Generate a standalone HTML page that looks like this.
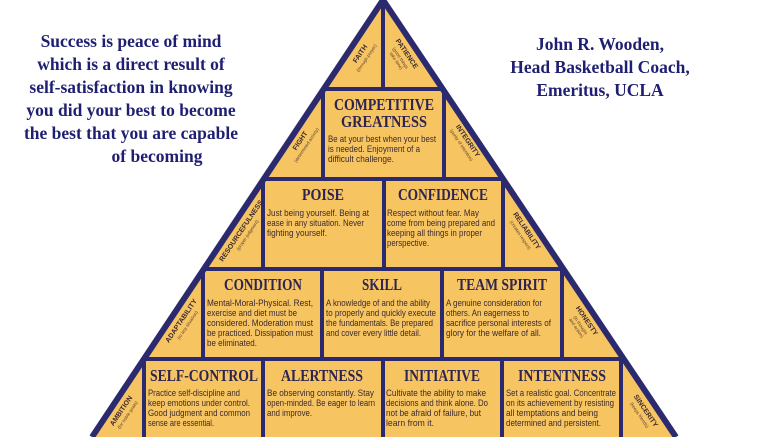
<!DOCTYPE html>
<html><head><meta charset="utf-8"><style>
html,body{margin:0;padding:0;background:#fff;}
svg{display:block}
.q{font-family:"Liberation Serif",serif;font-weight:bold;fill:#1f1f72;font-size:17.5px;text-anchor:middle}
.t{font-family:"Liberation Serif",serif;font-weight:bold;fill:#2e2450;font-size:16.5px;text-anchor:middle}
.b{font-family:"Liberation Sans",sans-serif;fill:#3a2a30;font-size:9px}
.s{font-family:"Liberation Sans",sans-serif;fill:#3a2a30;font-size:7px;text-anchor:middle;font-weight:bold}
.ss{font-family:"Liberation Sans",sans-serif;fill:#5a4030;font-size:4.5px;text-anchor:middle}
</style></head><body>
<svg width="765" height="437" viewBox="0 0 765 437" xmlns="http://www.w3.org/2000/svg">
<rect width="765" height="437" fill="#fff"/>
<g class="q">
<text x="131" y="47">Success is peace of mind</text>
<text x="131" y="70">which is a direct result of</text>
<text x="131" y="93">self-satisfaction in knowing</text>
<text x="131" y="116">you did your best to become</text>
<text x="131" y="139">the best that you are capable</text>
<text x="157" y="162">of becoming</text>
<text x="600" y="50">John R. Wooden,</text>
<text x="600" y="73">Head Basketball Coach,</text>
<text x="600" y="96">Emeritus, UCLA</text>
</g>
<polygon points="383,0 92,437 676,437" fill="#f7c462"/>
<g stroke="#2c2a6e" stroke-width="4" fill="none">
<line x1="383" y1="0" x2="92" y2="437" stroke-width="6"/>
<line x1="383" y1="0" x2="676" y2="437" stroke-width="6"/>
<line x1="324" y1="89" x2="443" y2="89"/>
<line x1="264" y1="179" x2="503" y2="179"/>
<line x1="204" y1="269" x2="563" y2="269"/>
<line x1="145" y1="359" x2="622" y2="359"/>
<line x1="383" y1="4" x2="383" y2="89"/>
<line x1="323" y1="89" x2="323" y2="179"/><line x1="444" y1="89" x2="444" y2="179"/>
<line x1="263" y1="179" x2="263" y2="269"/><line x1="384" y1="179" x2="384" y2="269"/><line x1="503" y1="179" x2="503" y2="269"/>
<line x1="203" y1="269" x2="203" y2="359"/><line x1="322" y1="269" x2="322" y2="359"/><line x1="442" y1="269" x2="442" y2="359"/><line x1="562" y1="269" x2="562" y2="359"/>
<line x1="144" y1="359" x2="144" y2="437"/><line x1="263" y1="359" x2="263" y2="437"/><line x1="383" y1="359" x2="383" y2="437"/><line x1="502" y1="359" x2="502" y2="437"/><line x1="621" y1="359" x2="621" y2="437"/>
</g>
<g class="t">
<text x="384" y="110" textLength="100" lengthAdjust="spacingAndGlyphs">COMPETITIVE</text>
<text x="384" y="127" textLength="86" lengthAdjust="spacingAndGlyphs">GREATNESS</text>
<text x="323" y="200" textLength="42" lengthAdjust="spacingAndGlyphs">POISE</text>
<text x="443" y="200" textLength="90" lengthAdjust="spacingAndGlyphs">CONFIDENCE</text>
<text x="263" y="290" textLength="78" lengthAdjust="spacingAndGlyphs">CONDITION</text>
<text x="382" y="290" textLength="40" lengthAdjust="spacingAndGlyphs">SKILL</text>
<text x="502" y="290" textLength="90" lengthAdjust="spacingAndGlyphs">TEAM SPIRIT</text>
<text x="204" y="381" textLength="108" lengthAdjust="spacingAndGlyphs">SELF-CONTROL</text>
<text x="322" y="381" textLength="82" lengthAdjust="spacingAndGlyphs">ALERTNESS</text>
<text x="442" y="381" textLength="76" lengthAdjust="spacingAndGlyphs">INITIATIVE</text>
<text x="562" y="381" textLength="88" lengthAdjust="spacingAndGlyphs">INTENTNESS</text>
</g>
<g class="b">
<text x="328" y="142" textLength="108" lengthAdjust="spacingAndGlyphs">Be at your best when your best</text>
<text x="328" y="152" textLength="92" lengthAdjust="spacingAndGlyphs">is needed. Enjoyment of a</text>
<text x="328" y="162" textLength="66" lengthAdjust="spacingAndGlyphs">difficult challenge.</text>
<text x="267" y="216" textLength="102" lengthAdjust="spacingAndGlyphs">Just being yourself. Being at</text>
<text x="267" y="226" textLength="97" lengthAdjust="spacingAndGlyphs">ease in any situation. Never</text>
<text x="267" y="236" textLength="60" lengthAdjust="spacingAndGlyphs">fighting yourself.</text>
<text x="387" y="216" textLength="92" lengthAdjust="spacingAndGlyphs">Respect without fear. May</text>
<text x="387" y="226" textLength="108" lengthAdjust="spacingAndGlyphs">come from being prepared and</text>
<text x="387" y="236" textLength="95" lengthAdjust="spacingAndGlyphs">keeping all things in proper</text>
<text x="387" y="246" textLength="42" lengthAdjust="spacingAndGlyphs">perspective.</text>
<text x="207" y="306" textLength="106" lengthAdjust="spacingAndGlyphs">Mental-Moral-Physical. Rest,</text>
<text x="207" y="316" textLength="90" lengthAdjust="spacingAndGlyphs">exercise and diet must be</text>
<text x="207" y="326" textLength="106" lengthAdjust="spacingAndGlyphs">considered. Moderation must</text>
<text x="207" y="336" textLength="106" lengthAdjust="spacingAndGlyphs">be practiced. Dissipation must</text>
<text x="207" y="346" textLength="50" lengthAdjust="spacingAndGlyphs">be eliminated.</text>
<text x="326" y="306" textLength="104" lengthAdjust="spacingAndGlyphs">A knowledge of and the ability</text>
<text x="326" y="316" textLength="110" lengthAdjust="spacingAndGlyphs">to properly and quickly execute</text>
<text x="326" y="326" textLength="107" lengthAdjust="spacingAndGlyphs">the fundamentals. Be prepared</text>
<text x="326" y="336" textLength="95" lengthAdjust="spacingAndGlyphs">and cover every little detail.</text>
<text x="446" y="306" textLength="96" lengthAdjust="spacingAndGlyphs">A genuine consideration for</text>
<text x="446" y="316" textLength="83" lengthAdjust="spacingAndGlyphs">others. An eagerness to</text>
<text x="446" y="326" textLength="105" lengthAdjust="spacingAndGlyphs">sacrifice personal interests of</text>
<text x="446" y="336" textLength="95" lengthAdjust="spacingAndGlyphs">glory for the welfare of all.</text>
<text x="148" y="396" textLength="92" lengthAdjust="spacingAndGlyphs">Practice self-discipline and</text>
<text x="148" y="406" textLength="102" lengthAdjust="spacingAndGlyphs">keep emotions under control.</text>
<text x="148" y="416" textLength="102" lengthAdjust="spacingAndGlyphs">Good judgment and common</text>
<text x="148" y="426" textLength="66" lengthAdjust="spacingAndGlyphs">sense are essential.</text>
<text x="267" y="396" textLength="107" lengthAdjust="spacingAndGlyphs">Be observing constantly. Stay</text>
<text x="267" y="406" textLength="108" lengthAdjust="spacingAndGlyphs">open-minded. Be eager to learn</text>
<text x="267" y="416" textLength="45" lengthAdjust="spacingAndGlyphs">and improve.</text>
<text x="386" y="396" textLength="100" lengthAdjust="spacingAndGlyphs">Cultivate the ability to make</text>
<text x="386" y="406" textLength="102" lengthAdjust="spacingAndGlyphs">decisions and think alone. Do</text>
<text x="386" y="416" textLength="95" lengthAdjust="spacingAndGlyphs">not be afraid of failure, but</text>
<text x="386" y="426" textLength="48" lengthAdjust="spacingAndGlyphs">learn from it.</text>
<text x="506" y="396" textLength="110" lengthAdjust="spacingAndGlyphs">Set a realistic goal. Concentrate</text>
<text x="506" y="406" textLength="108" lengthAdjust="spacingAndGlyphs">on its achievement by resisting</text>
<text x="506" y="416" textLength="92" lengthAdjust="spacingAndGlyphs">all temptations and being</text>
<text x="506" y="426" textLength="95" lengthAdjust="spacingAndGlyphs">determined and persistent.</text>
</g>
<g transform="translate(362,55) rotate(-56)"><text class="s">FAITH</text><text class="ss" y="7">(through prayer)</text></g>
<g transform="translate(405,55) rotate(56)"><text class="s">PATIENCE</text><text class="ss" y="7">(good things</text><text class="ss" y="12">take time)</text></g>
<g transform="translate(302,142) rotate(-56)"><text class="s">FIGHT</text><text class="ss" y="7">(determined activity)</text></g>
<g transform="translate(466,142) rotate(56)"><text class="s">INTEGRITY</text><text class="ss" y="7">(purity of intention)</text></g>
<g transform="translate(243,232) rotate(-56)"><text class="s">RESOURCEFULNESS</text><text class="ss" y="7">(proper judgment)</text></g>
<g transform="translate(525,232) rotate(56)"><text class="s">RELIABILITY</text><text class="ss" y="7">(creates respect)</text></g>
<g transform="translate(183,322) rotate(-56)"><text class="s">ADAPTABILITY</text><text class="ss" y="7">(to any situation)</text></g>
<g transform="translate(585,322) rotate(56)"><text class="s">HONESTY</text><text class="ss" y="7">(in thought</text><text class="ss" y="12">and action)</text></g>
<g transform="translate(123,412) rotate(-56)"><text class="s">AMBITION</text><text class="ss" y="7">(for noble goals)</text></g>
<g transform="translate(644,412) rotate(56)"><text class="s">SINCERITY</text><text class="ss" y="7">(keeps friends)</text></g>
</svg>
</body></html>
